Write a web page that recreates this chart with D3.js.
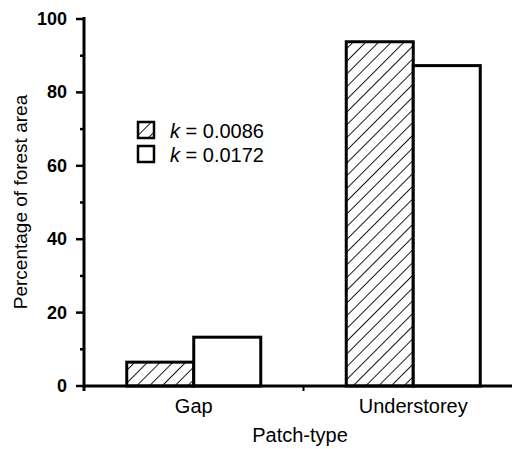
<!DOCTYPE html>
<html>
<head>
<script src="https://cdn.jsdelivr.net/npm/d3@7"></script>
<style>
  body { margin: 0; background: #fff; }
  text { font-family: "Liberation Sans", Arial, sans-serif; }
</style>
</head>
<body>
<svg id="mainsvg" width="514" height="449"></svg>
<script>
const categories = ['Gap', 'Understorey']
const seriesNames = ['k = 0.0086', 'k = 0.0172']
const hatched = [6.5, 93.8]   // k = 0.0086
const open = [13.3, 87.3]     // k = 0.0172
const yTicks = [0, 20, 40, 60, 80, 100]
const yMinor = [10, 30, 50, 70, 90]

const svg = d3.select('#mainsvg')
const margin = {top: 19, left: 84, right: 2, bottom: 63}
const width = +svg.attr('width')
const height = +svg.attr('height')

// hatch pattern
svg.append('defs').append('pattern')
  .attr('id', 'hatch')
  .attr('patternUnits', 'userSpaceOnUse')
  .attr('width', 9).attr('height', 9)
  .attr('patternTransform', 'rotate(45)')
  .append('line')
  .attr('x1', 0).attr('y1', 0).attr('x2', 0).attr('y2', 9)
  .attr('stroke', '#000').attr('stroke-width', 1.8)

const y = d3.scaleLinear().domain([0, 100]).range([height - margin.bottom, margin.top])
const x = d3.scaleBand().domain(categories).range([84, 523]).padding(0)
// each category gets a pair of bars centred on the band middle
const barW = 67

const g = svg.append('g')

const rows = categories.map((c, i) => ({c, vals: [hatched[i], open[i]]}))
rows.forEach(r => {
  const cx = x(r.c) + x.bandwidth() / 2
  r.vals.forEach((v, j) => {
    g.append('rect')
      .attr('x', cx - barW + j * barW)
      .attr('y', y(v))
      .attr('width', barW)
      .attr('height', y(0) - y(v))
      .attr('fill', j === 0 ? 'url(#hatch)' : '#fff')
      .attr('stroke', '#000')
      .attr('stroke-width', 3)
  })
})

// y axis
const yAxis = svg.append('g').attr('transform', `translate(${margin.left},0)`)
yAxis.append('line')
  .attr('x1', 0).attr('x2', 0)
  .attr('y1', y(100) - 2).attr('y2', y(0) + 5)
  .attr('stroke', '#000').attr('stroke-width', 3)
yAxis.selectAll('.major').data(yTicks).join('line')
  .attr('x1', -8).attr('x2', 0)
  .attr('y1', d => y(d)).attr('y2', d => y(d))
  .attr('stroke', '#000').attr('stroke-width', 2.5)
yAxis.selectAll('.minor').data(yMinor).join('line')
  .attr('class', 'minor')
  .attr('x1', -4).attr('x2', 0)
  .attr('y1', d => y(d)).attr('y2', d => y(d))
  .attr('stroke', '#000').attr('stroke-width', 2.5)
yAxis.selectAll('text').data(yTicks).join('text')
  .attr('x', -17)
  .attr('y', d => y(d) + 6)
  .attr('text-anchor', 'end')
  .attr('font-size', 18)
  .attr('font-weight', 'bold')
  .text(d => d)

// x axis
svg.append('line')
  .attr('x1', margin.left).attr('x2', width - margin.right)
  .attr('y1', y(0)).attr('y2', y(0))
  .attr('stroke', '#000').attr('stroke-width', 3)
svg.append('line')
  .attr('x1', x('Understorey')).attr('x2', x('Understorey'))
  .attr('y1', y(0)).attr('y2', y(0) + 5)
  .attr('stroke', '#000').attr('stroke-width', 2)

svg.selectAll('.xlab').data(categories).join('text')
  .attr('x', d => x(d) + x.bandwidth() / 2)
  .attr('y', y(0) + 27)
  .attr('text-anchor', 'middle')
  .attr('font-size', 20)
  .text(d => d)

svg.append('text')
  .attr('x', 300).attr('y', 442)
  .attr('text-anchor', 'middle')
  .attr('font-size', 20)
  .text('Patch-type')

svg.append('text')
  .attr('transform', `translate(27, 202) rotate(-90)`)
  .attr('text-anchor', 'middle')
  .attr('font-size', 19)
  .text('Percentage of forest area')

// legend
const legend = svg.append('g').attr('transform', 'translate(138, 122)')
seriesNames.forEach((s, i) => {
  const row = legend.append('g').attr('transform', `translate(0, ${i * 24})`)
  row.append('rect')
    .attr('width', 16).attr('height', 16)
    .attr('fill', i === 0 ? 'url(#hatch)' : '#fff')
    .attr('stroke', '#000').attr('stroke-width', 2.5)
  const t = row.append('text').attr('x', 32).attr('y', 16).attr('font-size', 20)
  t.append('tspan').attr('font-style', 'italic').text('k')
  t.append('tspan').text(' = ' + s.split('= ')[1])
})
</script>
</body>
</html>
